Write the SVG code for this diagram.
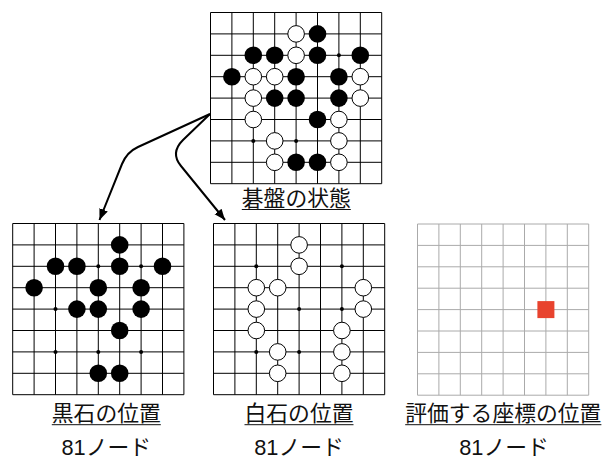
<svg xmlns="http://www.w3.org/2000/svg" xmlns:xlink="http://www.w3.org/1999/xlink" width="606" height="460" viewBox="0 0 606 460">
<style>
.grid{fill:none;stroke:#000;stroke-width:1}
.grid-light{fill:none;stroke:#aaa;stroke-width:1}
.bk{fill:#000}
.wt{fill:#fff;stroke:#000;stroke-width:1}
.dot{fill:#000}
.lbl{font-family:"Liberation Sans","Noto Sans CJK JP",sans-serif;font-size:21.8px;fill:#111;text-anchor:middle}
.ul{stroke:#111;stroke-width:1}
.conn{fill:none;stroke:#000;stroke-width:2}
</style>
<defs>
<path id="gridpath" d="M0 0V171.2M21.4 0V171.2M42.8 0V171.2M64.2 0V171.2M85.6 0V171.2M107 0V171.2M128.4 0V171.2M149.8 0V171.2M171.2 0V171.2M0 0H171.2M0 21.4H171.2M0 42.8H171.2M0 64.2H171.2M0 85.6H171.2M0 107H171.2M0 128.4H171.2M0 149.8H171.2M0 171.2H171.2"/>
<marker id="arrow" markerUnits="userSpaceOnUse" markerWidth="12" markerHeight="12" viewBox="0 0 12 12" refX="11" refY="6" orient="auto">
<path d="M0 1.5L11 6L0 10.5Z" fill="#000"/>
</marker>
</defs>

<g id="board-state" transform="translate(210.5,12.5)">
<use href="#gridpath" class="grid"/>
<circle class="dot" cx="128.4" cy="42.8" r="2"/>
<circle class="dot" cx="42.8" cy="128.4" r="2"/>
<circle class="dot" cx="85.6" cy="128.4" r="2"/>
<circle class="bk" cx="107" cy="21.4" r="8.8"/>
<circle class="bk" cx="42.8" cy="42.8" r="8.8"/>
<circle class="bk" cx="64.2" cy="42.8" r="8.8"/>
<circle class="bk" cx="107" cy="42.8" r="8.8"/>
<circle class="bk" cx="149.8" cy="42.8" r="8.8"/>
<circle class="bk" cx="21.4" cy="64.2" r="8.8"/>
<circle class="bk" cx="85.6" cy="64.2" r="8.8"/>
<circle class="bk" cx="128.4" cy="64.2" r="8.8"/>
<circle class="bk" cx="64.2" cy="85.6" r="8.8"/>
<circle class="bk" cx="85.6" cy="85.6" r="8.8"/>
<circle class="bk" cx="128.4" cy="85.6" r="8.8"/>
<circle class="bk" cx="107" cy="107" r="8.8"/>
<circle class="bk" cx="85.6" cy="149.8" r="8.8"/>
<circle class="bk" cx="107" cy="149.8" r="8.8"/>
<circle class="wt" cx="85.6" cy="21.4" r="8.3"/>
<circle class="wt" cx="85.6" cy="42.8" r="8.3"/>
<circle class="wt" cx="42.8" cy="64.2" r="8.3"/>
<circle class="wt" cx="64.2" cy="64.2" r="8.3"/>
<circle class="wt" cx="149.8" cy="64.2" r="8.3"/>
<circle class="wt" cx="42.8" cy="85.6" r="8.3"/>
<circle class="wt" cx="149.8" cy="85.6" r="8.3"/>
<circle class="wt" cx="42.8" cy="107" r="8.3"/>
<circle class="wt" cx="128.4" cy="107" r="8.3"/>
<circle class="wt" cx="64.2" cy="128.4" r="8.3"/>
<circle class="wt" cx="128.4" cy="128.4" r="8.3"/>
<circle class="wt" cx="64.2" cy="149.8" r="8.3"/>
<circle class="wt" cx="128.4" cy="149.8" r="8.3"/>
</g>
<g id="label-state">
<text class="lbl" x="296.3" y="205.5">碁盤の状態</text>
<line class="ul" x1="241.8" y1="209.5" x2="350.8" y2="209.5"/>
</g>

<g id="board-black" transform="translate(12.7,223.5)">
<use href="#gridpath" class="grid"/>
<circle class="dot" cx="85.6" cy="42.8" r="2"/>
<circle class="dot" cx="128.4" cy="42.8" r="2"/>
<circle class="dot" cx="42.8" cy="85.6" r="2"/>
<circle class="dot" cx="42.8" cy="128.4" r="2"/>
<circle class="dot" cx="85.6" cy="128.4" r="2"/>
<circle class="dot" cx="128.4" cy="128.4" r="2"/>
<circle class="bk" cx="107" cy="21.4" r="8.8"/>
<circle class="bk" cx="42.8" cy="42.8" r="8.8"/>
<circle class="bk" cx="64.2" cy="42.8" r="8.8"/>
<circle class="bk" cx="107" cy="42.8" r="8.8"/>
<circle class="bk" cx="149.8" cy="42.8" r="8.8"/>
<circle class="bk" cx="21.4" cy="64.2" r="8.8"/>
<circle class="bk" cx="85.6" cy="64.2" r="8.8"/>
<circle class="bk" cx="128.4" cy="64.2" r="8.8"/>
<circle class="bk" cx="64.2" cy="85.6" r="8.8"/>
<circle class="bk" cx="85.6" cy="85.6" r="8.8"/>
<circle class="bk" cx="128.4" cy="85.6" r="8.8"/>
<circle class="bk" cx="107" cy="107" r="8.8"/>
<circle class="bk" cx="85.6" cy="149.8" r="8.8"/>
<circle class="bk" cx="107" cy="149.8" r="8.8"/>
</g>
<g id="label-black">
<text class="lbl" x="106.3" y="420.5">黒石の位置</text>
<line class="ul" x1="51.8" y1="424.7" x2="160.8" y2="424.7"/>
<text class="lbl" x="106.3" y="455">81ノード</text>
</g>

<g id="board-white" transform="translate(213.5,223.5)">
<use href="#gridpath" class="grid"/>
<circle class="dot" cx="42.8" cy="42.8" r="2"/>
<circle class="dot" cx="128.4" cy="42.8" r="2"/>
<circle class="dot" cx="85.6" cy="85.6" r="2"/>
<circle class="dot" cx="128.4" cy="85.6" r="2"/>
<circle class="dot" cx="42.8" cy="128.4" r="2"/>
<circle class="dot" cx="85.6" cy="128.4" r="2"/>
<circle class="wt" cx="85.6" cy="21.4" r="8.3"/>
<circle class="wt" cx="85.6" cy="42.8" r="8.3"/>
<circle class="wt" cx="42.8" cy="64.2" r="8.3"/>
<circle class="wt" cx="64.2" cy="64.2" r="8.3"/>
<circle class="wt" cx="149.8" cy="64.2" r="8.3"/>
<circle class="wt" cx="42.8" cy="85.6" r="8.3"/>
<circle class="wt" cx="149.8" cy="85.6" r="8.3"/>
<circle class="wt" cx="42.8" cy="107" r="8.3"/>
<circle class="wt" cx="128.4" cy="107" r="8.3"/>
<circle class="wt" cx="64.2" cy="128.4" r="8.3"/>
<circle class="wt" cx="128.4" cy="128.4" r="8.3"/>
<circle class="wt" cx="64.2" cy="149.8" r="8.3"/>
<circle class="wt" cx="128.4" cy="149.8" r="8.3"/>
</g>
<g id="label-white">
<text class="lbl" x="299" y="420.5">白石の位置</text>
<line class="ul" x1="244.5" y1="424.7" x2="353.5" y2="424.7"/>
<text class="lbl" x="299" y="455">81ノード</text>
</g>

<g id="board-eval" transform="translate(417.5,224)">
<use href="#gridpath" class="grid-light"/>
<rect x="119.9" y="77.1" width="17" height="17" fill="#e8432e"/>
</g>
<g id="label-eval">
<text class="lbl" x="503.3" y="420.5">評価する座標の位置</text>
<line class="ul" x1="405.2" y1="424.7" x2="601.4" y2="424.7"/>
<text class="lbl" x="504" y="455">81ノード</text>
</g>

<g id="connectors">
<path class="conn" marker-end="url(#arrow)" d="M210 114L138 147Q127 152 122 164L99.5 220"/>
<path class="conn" marker-end="url(#arrow)" d="M210 114L183 140Q170 153 181 166L225 220"/>
</g>
</svg>
